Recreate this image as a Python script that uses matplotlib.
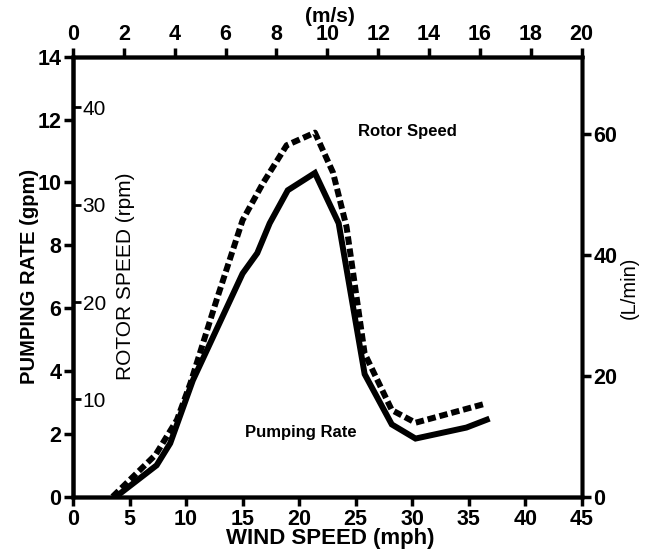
import matplotlib
matplotlib.use('Agg')
import matplotlib.pyplot as plt

plt.rcParams['font.family'] = ['Liberation Sans', 'DejaVu Sans']

# pumping rate (gpm) vs wind speed (mph)
pump_mph = [3.8, 7.4, 8.6, 9.9, 10.6, 15.0, 16.3, 17.4, 19.0, 21.4, 23.5, 25.8, 28.2, 30.3, 34.8, 36.6]
pump_gpm = [0, 1.0, 1.7, 3.0, 3.7, 7.1, 7.75, 8.7, 9.75, 10.3, 8.7, 3.9, 2.3, 1.85, 2.2, 2.45]

# rotor speed (rpm) vs wind speed (mph)
rotor_mph = [3.5, 7.3, 9.2, 10.4, 12.7, 15.0, 16.8, 18.9, 21.4, 23.0, 24.2, 25.8, 28.2, 30.3, 36.3]
rotor_rpm = [0, 4.3, 7.9, 11.7, 20.2, 28.4, 32.2, 36.1, 37.4, 33.3, 27.7, 14.7, 8.9, 7.6, 9.5]

mph_ticks = [0, 5, 10, 15, 20, 25, 30, 35, 40, 45]
ms_ticks = [0, 2, 4, 6, 8, 10, 12, 14, 16, 18, 20]
gpm_ticks = [0, 2, 4, 6, 8, 10, 12, 14]
lmin_ticks = [0, 20, 40, 60]
rpm_ticks = [10, 20, 30, 40]

fs = 15.5
fig = plt.figure(figsize=(6.57, 5.54), dpi=100)
ax = fig.add_axes([0.1111, 0.1034, 0.7743, 0.7943])

ax.plot(pump_mph, pump_gpm, color='black', lw=4.3, solid_joinstyle='miter', zorder=3)
ax.set_xlim(0, 45)
ax.set_ylim(0, 14)
ax.set_xticks(mph_ticks)
ax.set_yticks(gpm_ticks)
for lab in ax.get_xticklabels() + ax.get_yticklabels():
    lab.set_fontweight('bold')
ax.tick_params(length=6.5, width=2.5, labelsize=fs, pad=2)
ax.set_xlabel('WIND SPEED (mph)', fontsize=16, fontweight='bold')
ax.xaxis.set_label_coords(0.505, -0.071)
ax.set_ylabel('PUMPING RATE (gpm)', fontsize=14.5, fontweight='bold')
ax.yaxis.set_label_coords(-0.067, 0.5)

# top axis m/s
axt = ax.twiny()
axt.set_xlim(0, 20)
axt.set_xticks(ms_ticks)
for lab in axt.get_xticklabels():
    lab.set_fontweight('bold')
axt.tick_params(length=6.5, width=2.5, labelsize=fs, pad=2)
axt.set_xlabel('(m/s)', fontsize=15, fontweight='bold')
axt.xaxis.set_label_coords(0.505, 1.079)

# right axis L/min
axr = ax.twinx()
axr.set_ylim(0, 72.8)
axr.set_yticks(lmin_ticks)
for lab in axr.get_yticklabels():
    lab.set_fontweight('bold')
axr.tick_params(length=6.5, width=2.5, labelsize=fs, pad=2)
axr.set_ylabel('(L/min)', fontsize=14.5)
axr.yaxis.set_label_coords(1.075, 0.474)

# inner rotor speed axis
axi = ax.twinx()
axi.spines['right'].set_position(('axes', 0))
axi.set_ylim(0, 45.2)
axi.set_yticks(rpm_ticks)
axi.tick_params(length=6, width=2, labelsize=15, pad=1)
axi.set_ylabel('ROTOR SPEED (rpm)', fontsize=15)
axi.yaxis.set_label_coords(0.084, 0.5)
axi.plot(rotor_mph, rotor_rpm, color='black', lw=4.3, dashes=(1.4, 0.65),
         dash_capstyle='butt', zorder=3)

for a in (ax, axt, axr, axi):
    for s in a.spines.values():
        s.set_linewidth(2.5)
    a.patch.set_visible(False)

ax.text(25.2, 11.63, 'Rotor Speed', fontsize=12, fontweight='bold', va='center')
ax.text(15.2, 2.05, 'Pumping Rate', fontsize=12, fontweight='bold', va='center')

fig.savefig('out.png', dpi=100)
